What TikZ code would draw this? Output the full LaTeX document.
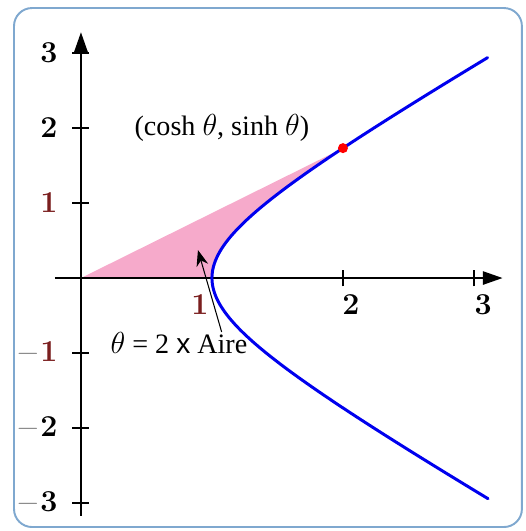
\documentclass[tikz,border=0pt]{standalone}
\usepackage[no-math]{fontspec}
\setmainfont{Liberation Serif}
\newfontfamily\sansx{Liberation Sans}
\usepackage{xcolor}
\definecolor{framebl}{HTML}{7FA8CF}
\definecolor{areapink}{HTML}{F6AACB}
\definecolor{onered}{HTML}{7A1E1E}
\definecolor{hypblue}{HTML}{0000EE}
\usetikzlibrary{arrows.meta,calc}
\tikzset{
  axisln/.style={line width=1.6pt, -{Triangle[length=4mm,width=2.6mm]}},
  tickln/.style={line width=0.8pt},
  hyp/.style   ={hypblue, line width=1.7pt, line cap=round},
  ticklab/.style={inner sep=0pt, font=\fontsize{16.5}{19}\selectfont},
  ylab/.style  ={ticklab, anchor=east},
  xlab/.style  ={ticklab, anchor=center},
  txt/.style   ={inner sep=0pt, font=\fontsize{16}{18}\selectfont},
  arr/.style   ={-{Stealth[length=3.2mm,width=2.4mm]}, line width=0.6pt},
}
\newcommand{\mns}{\textcolor{black!45}{$-$}}

\begin{document}
\begin{tikzpicture}[x=2.62cm, y=1.5cm]
  \useasboundingbox (-0.618,-3.373) rectangle (3.397,3.707);
  % cadre
  \draw[framebl, line width=1.1pt, rounded corners=0.36cm]
    (-0.511,-3.32) rectangle (3.366,3.6);
  % aire
  \fill[areapink] (0,0) -- plot[domain=1.317:0, samples=40, smooth]
    ({cosh(\x)},{sinh(\x)}) -- cycle;
  % axes
  \draw[axisln] (-0.2,0) -- (3.22,0);
  \draw[axisln] (0,-3.17) -- (0,3.28);
  \foreach \y in {-3,-2,-1,1,2,3}
    \draw[tickln] (-0.065,\y) -- (0.065,\y);
  \foreach \x in {1,2,3}
    \draw[tickln] (\x,-0.11) -- (\x,0.11);
  % hyperbole
  \draw[hyp] plot[domain=-1.8:1.8, samples=120, smooth] ({cosh(\x)},{sinh(\x)});
  \fill[red] (2,1.732) circle (0.1cm);
  % graduations
  \node[ylab] (ly3)  at (-0.176,3)  {$\mathbf{3}$};
  \node[ylab] (ly2)  at (-0.176,2)  {$\mathbf{2}$};
  \node[ylab] (ly1)  at (-0.176,1)  {\textcolor{onered}{$\mathbf{1}$}};
  \node[ylab] (lym1) at (-0.176,-1) {\mns\textcolor{onered}{$\mathbf{1}$}};
  \node[ylab] (lym2) at (-0.176,-2) {\mns$\mathbf{2}$};
  \node[ylab] (lym3) at (-0.176,-3) {\mns$\mathbf{3}$};
  \node[xlab] (lx1) at (0.908,-0.36) {\textcolor{onered}{$\mathbf{1}$}};
  \node[xlab] (lx2) at (2.06,-0.35)  {$\mathbf{2}$};
  \node[xlab] (lx3) at (3.07,-0.35)  {$\mathbf{3}$};
  % textes
  \node[txt] (pt) at (1.076,2.0) {(cosh $\theta$, sinh $\theta$)};
  \node[txt] (aire) at (0.748,-0.867) {$\theta$ = 2 {\sansx x} Aire};
  \coordinate (aireTip) at (0.893,0.373);
  \draw[arr] ([xshift=-0.52cm]aire.north east) -- (aireTip);
\end{tikzpicture}
\end{document}
